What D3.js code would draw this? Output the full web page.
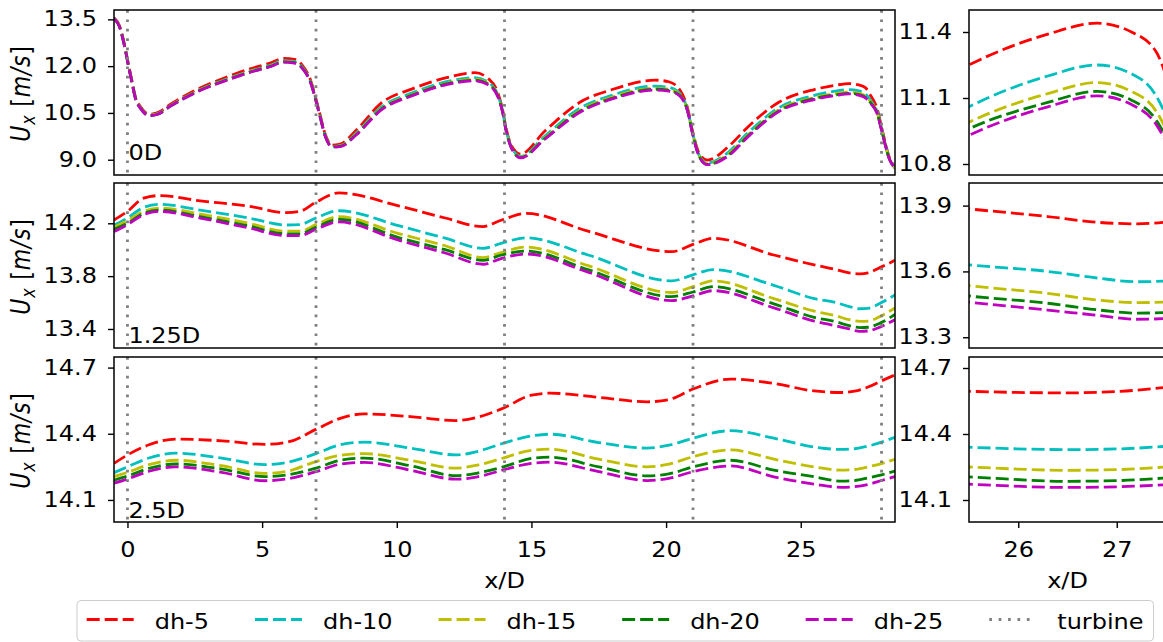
<!DOCTYPE html>
<html>
<head>
<meta charset="utf-8">
<script src="https://cdn.jsdelivr.net/npm/d3@7"></script>
<style>
  body { margin: 0; background: #fff; }
  text { font-family: "DejaVu Sans", sans-serif; }
</style>
</head>
<body>
<script>
// ---- data ---------------------------------------------------------------
const seriesNames = ["dh-5", "dh-10", "dh-15", "dh-20", "dh-25"];
const turbineX = [0, 7, 14, 21, 28];
const rowLabels = ["0D", "1.25D", "2.5D"];

const yTicksLeft = [[9.0, 10.5, 12.0, 13.5], [13.4, 13.8, 14.2], [14.1, 14.4, 14.7]];
const yTicksRight = [[10.8, 11.1, 11.4], [13.3, 13.6, 13.9], [14.1, 14.4, 14.7]];
const xTicksLeft = [0, 5, 10, 15, 20, 25];
const xTicksRight = [26, 27];

// hub-height profile at 0D
const x0D = [-0.5,-0.3,-0.1,0.05,0.15,0.3,0.5,0.8,1.1,1.6,2.7,3.6,4.5,5.3,5.8,6.2,6.5,6.8,7.0,7.15,7.35,7.6,7.9,8.5,9.4,10.6,11.85,12.9,13.4,13.75,13.93,14.05,14.26,14.6,15.5,16.8,18.0,19.6,20.1,20.5,20.8,21.0,21.23,21.53,22.35,23.0,24.2,25.5,26.3,26.8,27.15,27.4,27.6,27.85,28.0,28.28,28.5];
const dh5_0D  = [13.55,13.30,12.65,12.00,11.60,11.00,10.68,10.46,10.50,10.78,11.30,11.62,11.90,12.10,12.25,12.22,12.02,11.55,10.95,10.45,9.80,9.47,9.50,9.95,10.80,11.28,11.63,11.79,11.60,11.15,10.60,10.05,9.45,9.18,9.92,10.84,11.25,11.55,11.50,11.25,10.65,9.85,9.20,8.99,9.45,10.02,10.85,11.25,11.39,11.44,11.40,11.31,11.05,10.60,10.05,9.10,8.75];
const dh10_0D = [13.54,13.28,12.63,11.97,11.57,10.97,10.65,10.43,10.47,10.74,11.25,11.56,11.83,12.03,12.18,12.15,11.96,11.50,10.91,10.41,9.76,9.43,9.45,9.86,10.67,11.15,11.50,11.63,11.48,11.08,10.55,10.00,9.40,9.11,9.76,10.65,11.07,11.36,11.32,11.13,10.59,9.80,9.14,8.90,9.27,9.83,10.67,11.06,11.20,11.25,11.21,11.11,10.90,10.51,9.99,9.07,8.73];
const dh15_0D = [13.53,13.28,12.62,11.96,11.56,10.96,10.64,10.42,10.46,10.73,11.24,11.54,11.81,12.00,12.15,12.12,11.94,11.49,10.90,10.40,9.75,9.42,9.44,9.83,10.62,11.10,11.45,11.58,11.44,11.05,10.54,9.99,9.39,9.08,9.71,10.58,11.01,11.29,11.26,11.09,10.57,9.79,9.12,8.87,9.21,9.76,10.61,10.99,11.12,11.17,11.13,11.04,10.85,10.48,9.97,9.06,8.73];
const dh20_0D = [13.53,13.27,12.61,11.95,11.55,10.95,10.63,10.41,10.45,10.72,11.23,11.53,11.80,11.99,12.14,12.11,11.93,11.48,10.89,10.39,9.74,9.41,9.43,9.81,10.60,11.08,11.43,11.55,11.42,11.04,10.53,9.98,9.38,9.07,9.68,10.55,10.97,11.26,11.22,11.07,10.56,9.78,9.11,8.85,9.17,9.73,10.57,10.96,11.08,11.13,11.09,11.00,10.82,10.46,9.96,9.05,8.72];
const dh25_0D = [13.53,13.27,12.61,11.95,11.55,10.95,10.63,10.41,10.45,10.72,11.22,11.52,11.79,11.98,12.13,12.10,11.92,11.47,10.89,10.39,9.74,9.41,9.42,9.80,10.58,11.06,11.41,11.53,11.40,11.03,10.52,9.97,9.37,9.06,9.66,10.52,10.95,11.23,11.20,11.05,10.55,9.77,9.10,8.84,9.15,9.70,10.55,10.93,11.06,11.11,11.07,10.98,10.80,10.45,9.95,9.05,8.72];

// profile at 1.25D
const x125D = [-0.5,0,0.6,1.2,2.7,4.5,5.9,6.4,7.0,7.85,10.1,11.8,13.2,13.9,14.8,17.1,20.2,21.0,21.75,24.0,25.5,26.3,26.8,27.2,27.5,28.0,28.5];
const dh5_125D  = [14.225,14.29,14.39,14.41,14.37,14.33,14.28,14.29,14.36,14.43,14.33,14.24,14.175,14.225,14.275,14.14,13.985,14.04,14.087,13.96,13.885,13.85,13.824,13.817,13.825,13.87,13.92];
const dh10_125D = [14.187,14.24,14.32,14.344,14.30,14.24,14.187,14.19,14.24,14.295,14.18,14.087,14.01,14.05,14.09,13.96,13.764,13.81,13.85,13.73,13.63,13.60,13.57,13.553,13.556,13.60,13.658];
const dh15_125D = [14.17,14.22,14.29,14.315,14.27,14.20,14.14,14.14,14.19,14.25,14.12,14.03,13.94,13.98,14.02,13.88,13.676,13.72,13.764,13.63,13.535,13.50,13.47,13.458,13.46,13.50,13.56];
const dh20_125D = [14.155,14.20,14.275,14.30,14.25,14.18,14.12,14.12,14.17,14.23,14.09,14.00,13.92,13.96,13.99,13.85,13.645,13.68,13.72,13.59,13.488,13.455,13.425,13.41,13.413,13.45,13.51];
const dh25_125D = [14.137,14.19,14.265,14.29,14.24,14.165,14.107,14.107,14.155,14.21,14.07,13.975,13.89,13.935,13.968,13.83,13.615,13.65,13.69,13.56,13.46,13.424,13.40,13.382,13.385,13.42,13.47];

// profile at 2.5D
const x25D = [-0.5,0,0.8,1.8,3.5,5.1,6.0,7.0,7.9,8.8,10.5,12.2,13.0,13.95,15.0,15.7,17.5,19.3,20.1,21.0,22.4,24.0,25.5,26.5,27.0,27.5,28.0,28.5];
const dh5_25D  = [14.266,14.304,14.35,14.376,14.368,14.352,14.364,14.42,14.47,14.49,14.478,14.46,14.475,14.516,14.575,14.584,14.565,14.545,14.555,14.603,14.648,14.628,14.594,14.587,14.593,14.612,14.64,14.667];
const dh10_25D = [14.224,14.25,14.29,14.312,14.29,14.26,14.272,14.31,14.35,14.362,14.335,14.304,14.32,14.357,14.39,14.398,14.36,14.335,14.348,14.38,14.414,14.38,14.34,14.329,14.332,14.344,14.362,14.384];
const dh15_25D = [14.206,14.225,14.26,14.28,14.255,14.22,14.232,14.274,14.302,14.31,14.28,14.244,14.258,14.29,14.325,14.33,14.285,14.25,14.262,14.296,14.327,14.285,14.25,14.235,14.238,14.25,14.265,14.284];
const dh20_25D = [14.19,14.208,14.243,14.263,14.24,14.206,14.215,14.244,14.28,14.29,14.255,14.21,14.222,14.25,14.288,14.294,14.25,14.209,14.218,14.25,14.28,14.235,14.205,14.185,14.188,14.2,14.214,14.231];
const dh25_25D = [14.176,14.195,14.23,14.25,14.225,14.187,14.197,14.228,14.262,14.27,14.235,14.194,14.205,14.236,14.266,14.271,14.228,14.188,14.198,14.228,14.254,14.205,14.172,14.157,14.16,14.17,14.188,14.206];

const rowX = [x0D, x125D, x25D];
const rowSeries = [
  [dh5_0D, dh10_0D, dh15_0D, dh20_0D, dh25_0D],
  [dh5_125D, dh10_125D, dh15_125D, dh20_125D, dh25_125D],
  [dh5_25D, dh10_25D, dh15_25D, dh20_25D, dh25_25D]
];

// ---- layout -------------------------------------------------------------
const W = 1163, H = 642;
const colors = ["#ff0000", "#00bfbf", "#bfbf00", "#008000", "#bf00bf"];
const turbineColor = "#808080";
const FS = 20.5;          // font size
const SX = 1.17;          // horizontal text stretch
const LW = 2.8;
const DASH = "13,5";
const DOT = "2.7,6.7";

const rowsY = [[10, 175], [183, 348], [357, 522]];
const leftX = [114, 895];
const rightX = [969, 1166];
const yDomLeft = [[8.51, 13.8], [13.256, 14.505], [14.0, 14.748]];
const yDomRight = [[10.75, 11.5], [13.251, 14.003], [14.0, 14.75]];
const labelLift = [15, 5.5, 3.7];

const svg = d3.select("body").append("svg")
  .attr("width", W).attr("height", H)
  .attr("viewBox", `0 0 ${W} ${H}`);

const defs = svg.append("defs");
const fmt = d3.format(".1f");

function stretchY(axisG) {
  axisG.selectAll(".tick text")
    .attr("x", -17 / SX)
    .attr("transform", `scale(${SX},1)`);
}

function drawPanel(r, side) {
  const [y0, y1] = rowsY[r];
  const xr = side === "L" ? leftX : rightX;
  const xDom = side === "L" ? [-0.5, 28.5] : [25.5, 27.5];
  const x = d3.scaleLinear().domain(xDom).range(xr);
  const y = d3.scaleLinear().domain(side === "L" ? yDomLeft[r] : yDomRight[r]).range([y1, y0]);

  const id = `clip-${r}-${side}`;
  defs.append("clipPath").attr("id", id).append("rect")
    .attr("x", xr[0]).attr("y", y0).attr("width", xr[1] - xr[0]).attr("height", y1 - y0);

  const g = svg.append("g");
  const plot = g.append("g").attr("clip-path", `url(#${id})`);

  const line = d3.line()
    .x((d, i) => x(rowX[r][i]))
    .y(d => y(d))
    .curve(d3.curveMonotoneX);

  rowSeries[r].forEach((vals, k) => {
    plot.append("path")
      .attr("d", line(vals))
      .attr("fill", "none")
      .attr("stroke", colors[k])
      .attr("stroke-width", LW)
      .attr("stroke-dasharray", DASH);
  });

  if (side === "L") {
    plot.selectAll("line.turbine").data(turbineX).enter().append("line")
      .attr("class", "turbine")
      .attr("x1", d => x(d)).attr("x2", d => x(d))
      .attr("y1", y0).attr("y2", y1)
      .attr("stroke", turbineColor)
      .attr("stroke-width", LW)
      .attr("stroke-dasharray", DOT);

    g.append("text")
      .attr("transform", `translate(${x(0) + 1},${y1 - labelLift[r]}) scale(${SX},1)`)
      .attr("font-size", FS)
      .attr("fill", "#000")
      .text(rowLabels[r]);
  }

  // y axis
  const ya = g.append("g").attr("transform", `translate(${xr[0]},0)`)
    .call(d3.axisLeft(y).tickValues(side === "L" ? yTicksLeft[r] : yTicksRight[r])
      .tickFormat(fmt).tickSize(6).tickPadding(10));
  ya.select(".domain").remove();
  ya.selectAll(".tick line").attr("stroke", "#000").attr("stroke-width", 1.4);
  ya.selectAll(".tick text").attr("font-size", FS).attr("font-family", "DejaVu Sans").attr("fill", "#000");
  stretchY(ya);

  // x axis on the bottom row
  if (r === 2) {
    const xa = g.append("g").attr("transform", `translate(0,${y1})`)
      .call(d3.axisBottom(x).tickValues(side === "L" ? xTicksLeft : xTicksRight)
        .tickFormat(d3.format("d")).tickSize(6));
    xa.select(".domain").remove();
    xa.selectAll(".tick line").attr("stroke", "#000").attr("stroke-width", 1.4);
    xa.selectAll(".tick text")
      .attr("font-size", FS).attr("font-family", "DejaVu Sans").attr("fill", "#000")
      .attr("y", 20)
      .attr("transform", `scale(${SX},1)`);

    g.append("text")
      .attr("transform", `translate(${(xr[0] + Math.min(xr[1], W + 3)) / 2},588) scale(${SX},1)`)
      .attr("text-anchor", "middle")
      .attr("font-size", FS)
      .text("x/D");
  }

  // frame
  g.append("rect")
    .attr("x", xr[0]).attr("y", y0)
    .attr("width", xr[1] - xr[0]).attr("height", y1 - y0)
    .attr("fill", "none").attr("stroke", "#000").attr("stroke-width", 1.5);

  // y label
  if (side === "L") {
    const cy = (y0 + y1) / 2 + 1;
    const t = g.append("text")
      .attr("transform", `translate(30,${cy}) scale(${SX},1) rotate(-90)`)
      .attr("text-anchor", "middle")
      .attr("font-size", 22)
      .attr("letter-spacing", 0.8);
    t.append("tspan").attr("font-style", "italic").text("U");
    t.append("tspan").attr("font-style", "italic").attr("font-size", 16).attr("dy", 4).text("x");
    t.append("tspan").attr("dy", -4).text(" [");
    t.append("tspan").attr("font-style", "italic").text("m/s");
    t.append("tspan").text("]");
  }
}

for (let r = 0; r < 3; r++) {
  drawPanel(r, "L");
  drawPanel(r, "R");
}

// ---- legend -------------------------------------------------------------
const legend = svg.append("g");
const legBox = legend.append("rect")
  .attr("x", 77).attr("y", 600.5).attr("height", 40.5).attr("rx", 4)
  .attr("fill", "#fff").attr("stroke", "#cccccc").attr("stroke-width", 1);

const legendItems = seriesNames.map((n, i) => ({ name: n, color: colors[i], dash: DASH }))
  .concat([{ name: "turbine", color: turbineColor, dash: DOT }]);

let cx = 86.7;
const ly = 619.5;
let lastEnd = 0;
legendItems.forEach(item => {
  legend.append("line")
    .attr("x1", cx).attr("x2", cx + 47)
    .attr("y1", ly).attr("y2", ly)
    .attr("stroke", item.color).attr("stroke-width", LW)
    .attr("stroke-dasharray", item.dash);
  const tx = legend.append("text")
    .attr("transform", `translate(${cx + 68},629) scale(${SX},1)`)
    .attr("font-size", FS)
    .text(item.name);
  const w = tx.node().getComputedTextLength() * SX;
  lastEnd = cx + 68 + w;
  cx = lastEnd + 46;
});
legBox.attr("width", lastEnd + 10 - 77);
</script>
</body>
</html>
